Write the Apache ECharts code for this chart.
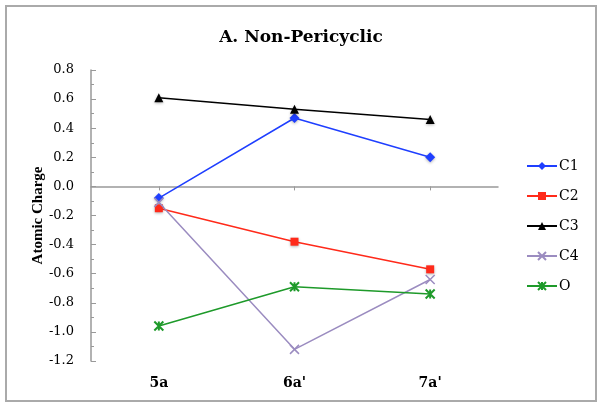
<!DOCTYPE html>
<html>
<head>
<meta charset="utf-8">
<script src="https://cdn.jsdelivr.net/npm/echarts@6/dist/echarts.min.js"></script>
<style>html,body{margin:0;padding:0;background:#fff;}#c{width:602px;height:407px;}</style>
</head>
<body>
<div id="c"></div>
<script>
var categories = ["5a", "6a'", "7a'"];
var c1 = [-0.08, 0.47, 0.20];
var c2 = [-0.15, -0.38, -0.57];
var c3 = [0.61, 0.53, 0.46];
var c4 = [-0.11, -1.12, -0.64];
var o = [-0.96, -0.69, -0.74];
var seriesNames = ["C1", "C2", "C3", "C4", "O"];
var yTicks = { min: -1.2, max: 0.8, interval: 0.2 };

var FONT = "'DejaVu Serif', 'Liberation Serif', serif";
var FONT2 = "'Liberation Serif', serif";
var chart = echarts.init(document.getElementById('c'), null, { renderer: 'canvas' });

function mk(name, data, color, symbol, size) {
  return {
    name: name, type: 'line', data: data, xAxisIndex: 0,
    symbol: symbol, symbolSize: size,
    lineStyle: { color: color, width: 1.5 },
    itemStyle: { color: color, shadowBlur: 3, shadowColor: 'rgba(0,0,0,0.3)', shadowOffsetY: 1 },
    emphasis: { disabled: true }
  };
}

chart.setOption({
  animation: false,
  backgroundColor: '#fff',
  title: {
    text: 'A. Non-Pericyclic', left: 'center', top: 24,
    textStyle: { fontFamily: FONT, fontSize: 17, fontWeight: 'bold', color: '#000' }
  },
  graphic: [{
    type: 'rect', shape: { x: 6, y: 6, width: 590, height: 395 },
    style: { fill: 'none', stroke: '#aaa', lineWidth: 2 }, silent: true
  }],
  grid: { left: 91, right: 104, top: 70, bottom: 46 },
  legend: {
    orient: 'vertical', left: 526, top: 159, itemGap: 16, padding: 0,
    itemWidth: 30, itemHeight: 10,
    data: seriesNames,
    textStyle: { fontFamily: FONT, fontSize: 14, color: '#000', padding: [0, 0, 0, -3] }
  },
  xAxis: [{
    type: 'category', data: categories, boundaryGap: true,
    axisLine: { onZero: true, lineStyle: { color: '#999', width: 1.5 } },
    axisTick: { show: true, alignWithLabel: true, inside: false, length: 4, lineStyle: { color: '#999' } },
    axisLabel: { show: false }
  }, {
    type: 'category', data: categories, position: 'bottom', boundaryGap: true,
    axisLine: { show: false }, axisTick: { show: false },
    axisLabel: { margin: 15, fontFamily: FONT, fontSize: 14, fontWeight: 'bold', color: '#000' }
  }],
  yAxis: {
    type: 'value', min: yTicks.min, max: yTicks.max, interval: yTicks.interval,
    name: 'Atomic Charge', nameLocation: 'middle', nameGap: 45, nameRotate: 90,
    nameMoveOverlap: false,
    nameTextStyle: { fontFamily: FONT2, fontSize: 15, fontWeight: 'bold', color: '#000' },
    axisLine: { show: true, lineStyle: { color: '#999', width: 1.5 } },
    axisTick: { show: true, inside: true, length: 5, lineStyle: { color: '#999' } },
    minorTick: { show: true, splitNumber: 2, length: 3, lineStyle: { color: '#999' } },
    splitLine: { show: false },
    axisLabel: {
      fontFamily: FONT, fontSize: 13, color: '#000', margin: 17,
      formatter: function (v) { return v.toFixed(1); }
    }
  },
  series: [
    mk('C1', c1, '#1f3fff', 'diamond', 10),
    mk('C2', c2, '#ff2a1a', 'rect', 8),
    mk('C3', c3, '#000000', 'triangle', 9),
    Object.assign(mk('C4', c4, '#9b8cc0', 'path://M0,0L10,10M10,0L0,10', 9), { itemStyle: { color: 'none', borderColor: '#9b8cc0', borderWidth: 1.5 } }),
    Object.assign(mk('O', o, '#1e9a2a', 'path://M0,0L10,10M10,0L0,10M5,0L5,10', 9), { itemStyle: { color: 'none', borderColor: '#1e9a2a', borderWidth: 2 } })
  ]
});
</script>
</body>
</html>
